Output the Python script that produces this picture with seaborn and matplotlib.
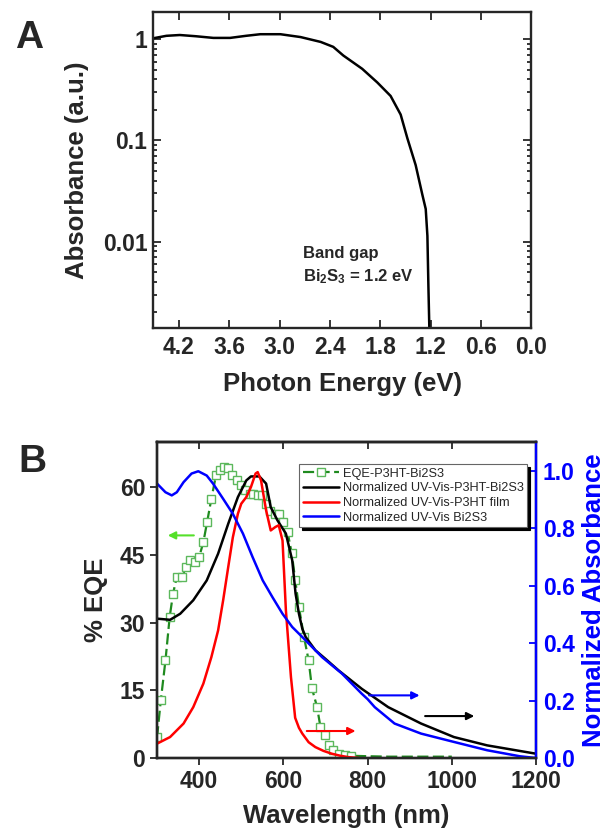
import numpy as np
import seaborn as sns
import matplotlib.pyplot as plt
from matplotlib.ticker import LogLocator, FixedLocator, NullFormatter, FuncFormatter

# panel A: absorbance of Bi2S3 vs photon energy
energy = [4.51, 4.35, 4.19, 4.0, 3.79, 3.59, 3.40, 3.23, 2.99, 2.75, 2.51, 2.36, 2.24,
          2.015, 1.835, 1.676, 1.556, 1.476, 1.377, 1.297, 1.257, 1.237, 1.225, 1.213, 1.21]
absorb = [1.02, 1.08, 1.10, 1.07, 1.03, 1.03, 1.08, 1.12, 1.12, 1.05, 0.94, 0.84, 0.69,
          0.51, 0.374, 0.275, 0.18, 0.105, 0.057, 0.029, 0.021, 0.0114, 0.0036, 0.00129, 0.001]

# panel B: EQE (left axis) and normalized absorbance (right axis)
wl_eqe = [300, 309, 320, 330, 338, 347, 359, 369, 378, 390, 400, 410, 419, 429, 440, 449,
          458, 469, 479, 490, 500, 510, 520, 529, 539, 549, 559, 569, 580, 590, 600, 610,
          620, 628, 637, 649, 660, 668, 680, 688, 698, 708, 719, 731, 747, 760,
          800, 850, 900, 950, 1000]
eqe = [4.6, 12.8, 21.6, 31.2, 36.4, 40.1, 40.1, 42.3, 43.8, 43.4, 44.5, 47.8, 52.3, 57.4,
       62.6, 63.7, 64.4, 64.2, 62.6, 61.5, 60.4, 59.3, 58.5, 58.5, 58.2, 58.2, 56.3, 54.8,
       54.1, 54.1, 52.3, 50.0, 45.3, 39.5, 33.4, 26.8, 21.6, 15.4, 11.3, 6.9, 5.0, 2.8,
       1.7, 1.0, 0.7, 0.5, 0.4, 0.3, 0.3, 0.3, 0.3]

wl_blend = [300, 331, 355, 386, 418, 445, 469, 492, 512, 523, 543, 559, 570, 586, 606, 621,
            629, 637, 645, 653, 676, 700, 731, 786, 849, 927, 1005, 1084, 1200]
abs_blend = [0.485, 0.481, 0.502, 0.549, 0.618, 0.711, 0.815, 0.908, 0.966, 0.98, 0.98,
             0.955, 0.873, 0.827, 0.781, 0.688, 0.572, 0.502, 0.45, 0.421, 0.375, 0.345,
             0.305, 0.241, 0.177, 0.12, 0.073, 0.044, 0.015]

wl_p3ht = [300, 331, 363, 386, 410, 429, 445, 457, 469, 480, 492, 500, 512, 523, 534, 539,
           547, 559, 570, 581, 589, 598, 606, 618, 628, 637, 645, 660, 676, 695, 715, 735,
           755, 780]
abs_p3ht = [0.05, 0.073, 0.12, 0.177, 0.259, 0.351, 0.444, 0.549, 0.664, 0.768, 0.85, 0.885,
            0.908, 0.943, 0.99, 0.995, 0.966, 0.862, 0.792, 0.804, 0.81, 0.757, 0.514, 0.282,
            0.14, 0.105, 0.085, 0.055, 0.038, 0.025, 0.015, 0.008, 0.003, 0.0]

wl_bi2s3 = [300, 320, 335, 347, 363, 382, 398, 418, 433, 457, 480, 504, 527, 551, 574, 598,
            621, 645, 692, 739, 786, 800, 817, 864, 927, 1005, 1084, 1162, 1200]
abs_bi2s3 = [0.955, 0.925, 0.914, 0.925, 0.96, 0.99, 0.998, 0.983, 0.955, 0.902, 0.85,
             0.781, 0.699, 0.618, 0.56, 0.502, 0.456, 0.421, 0.351, 0.294, 0.224, 0.205,
             0.177, 0.12, 0.085, 0.056, 0.027, 0.006, 0.0]

labels = ["EQE-P3HT-Bi2S3", "Normalized UV-Vis-P3HT-Bi2S3",
          "Normalized UV-Vis-P3HT film", "Normalized UV-Vis Bi2S3"]

sns.set_style("ticks")
plt.rcParams['font.family'] = ['Liberation Sans', 'DejaVu Sans']
plt.rcParams['font.weight'] = 'bold'
plt.rcParams['mathtext.default'] = 'regular'

fig = plt.figure(figsize=(6.07, 8.34), dpi=100)
axA = fig.add_axes([0.252, 0.6067, 0.623, 0.379])
axB = fig.add_axes([0.2587, 0.0911, 0.6244, 0.379])

# ---- panel A
sns.lineplot(x=energy, y=absorb, ax=axA, color='black', lw=1.8, sort=False)
axA.set_yscale('log')
axA.set_xlim(4.51, 0.0)
axA.set_ylim(0.0014, 1.86)
axA.xaxis.set_major_locator(FixedLocator([4.2, 3.6, 3.0, 2.4, 1.8, 1.2, 0.6, 0.0]))
axA.xaxis.set_major_formatter(FuncFormatter(lambda v, p: "%.1f" % v))
axA.yaxis.set_major_locator(FixedLocator([0.01, 0.1, 1]))
axA.yaxis.set_major_formatter(FuncFormatter(lambda v, p: "%g" % v))
axA.yaxis.set_minor_locator(LogLocator(base=10, subs=np.arange(2, 10)))
axA.yaxis.set_minor_formatter(NullFormatter())
axA.tick_params(which='both', direction='in', top=True, right=True, width=1.3,
                labelsize=16.5, pad=6)
axA.tick_params(axis='y', pad=4)
axA.tick_params(which='major', length=6)
axA.tick_params(which='minor', length=3)
for s in axA.spines.values():
    s.set_linewidth(1.7)
axA.set_xlabel("Photon Energy (eV)", fontsize=18.5, fontweight='bold', labelpad=9)
axA.set_ylabel("Absorbance (a.u.)", fontsize=18.5, fontweight='bold', labelpad=10)
axA.text(2.72, 0.0076, "Band gap", fontsize=12, fontweight='bold', va='center')
axA.text(2.72, 0.0045, "Bi$_2$S$_3$ = 1.2 eV", fontsize=12, fontweight='bold', va='center')

# ---- panel B
axB2 = axB.twinx()
n_mark = sum(1 for w in wl_eqe if w <= 760)
sns.lineplot(x=wl_eqe, y=eqe, ax=axB, color='#1f8a1f', lw=1.6, dashes=False,
             linestyle=(0, (5, 2)), marker='s', markersize=5.5, markerfacecolor='white',
             markeredgecolor='#5cb85c', markeredgewidth=1.0,
             markevery=list(range(n_mark)), label=labels[0], legend=False)
sns.lineplot(x=wl_blend, y=abs_blend, ax=axB2, color='black', lw=1.8,
             label=labels[1], legend=False)
sns.lineplot(x=wl_p3ht, y=abs_p3ht, ax=axB2, color='#ff0000', lw=1.8,
             label=labels[2], legend=False)
sns.lineplot(x=wl_bi2s3, y=abs_bi2s3, ax=axB2, color='#0000ff', lw=1.8,
             label=labels[3], legend=False)

axB.set_xlim(300, 1200)
axB.set_ylim(0, 70)
axB2.set_ylim(0, 1.1)
axB.set_xticks([400, 600, 800, 1000, 1200])
axB.set_yticks([0, 15, 30, 45, 60])
axB2.set_yticks([0.0, 0.2, 0.4, 0.6, 0.8, 1.0])
axB2.yaxis.set_major_formatter(FuncFormatter(lambda v, p: "%.1f" % v))
axB.tick_params(axis='both', direction='out', length=5, width=1.3, labelsize=16.5)
axB.tick_params(axis='x', top=False)
top = axB.secondary_xaxis('top')
top.set_xticks([400, 600, 800, 1000, 1200])
top.tick_params(direction='in', length=5, width=1.3, labeltop=False)
top.spines['top'].set_linewidth(1.7)
axB2.tick_params(axis='y', direction='in', length=5, width=1.3, colors='#0000ff',
                 labelsize=16.5, pad=5)
for s in axB.spines.values():
    s.set_linewidth(1.7)
for s in axB2.spines.values():
    s.set_linewidth(1.7)
axB2.spines['right'].set_color('#0000ff')
axB.set_xlabel("Wavelength (nm)", fontsize=18.5, fontweight='bold', labelpad=8)
axB.set_ylabel("% EQE", fontsize=18.5, fontweight='bold', labelpad=8)
axB2.set_ylabel("Normalized Absorbance", fontsize=18.5, fontweight='bold',
                color='#0000ff', labelpad=5)

# direction arrows
axB.annotate("", xy=(319, 49.3), xytext=(394, 49.3),
             arrowprops=dict(arrowstyle='-|>', color='#55e02a', lw=1.5, mutation_scale=11))
arrows = [((649, 0.094), (778, 0.094), '#ff0000'),
          ((797, 0.218), (930, 0.218), '#0000ff'),
          ((930, 0.146), (1060, 0.146), 'black')]
for start, end, col in arrows:
    axB2.annotate("", xy=end, xytext=start,
                  arrowprops=dict(arrowstyle='-|>', color=col, lw=1.5, mutation_scale=11))

h1, l1 = axB.get_legend_handles_labels()
h2, l2 = axB2.get_legend_handles_labels()
leg = axB2.legend(h1 + h2, l1 + l2, loc='upper left', bbox_to_anchor=(0.375, 0.93),
                  borderaxespad=0, frameon=True, fancybox=False,
                  shadow={'color': 'black', 'alpha': 1}, framealpha=1,
                  edgecolor='0.4', labelspacing=0.2, handlelength=2.8,
                  handletextpad=0.3, borderpad=0.3, prop={'weight': 'normal', 'size': 9.2})
leg.get_frame().set_linewidth(0.8)

fig.text(0.048, 0.955, "A", fontsize=28, fontweight='bold', ha='center', va='center')
fig.text(0.053, 0.446, "B", fontsize=28, fontweight='bold', ha='center', va='center')

fig.savefig("out.png", dpi=100)
